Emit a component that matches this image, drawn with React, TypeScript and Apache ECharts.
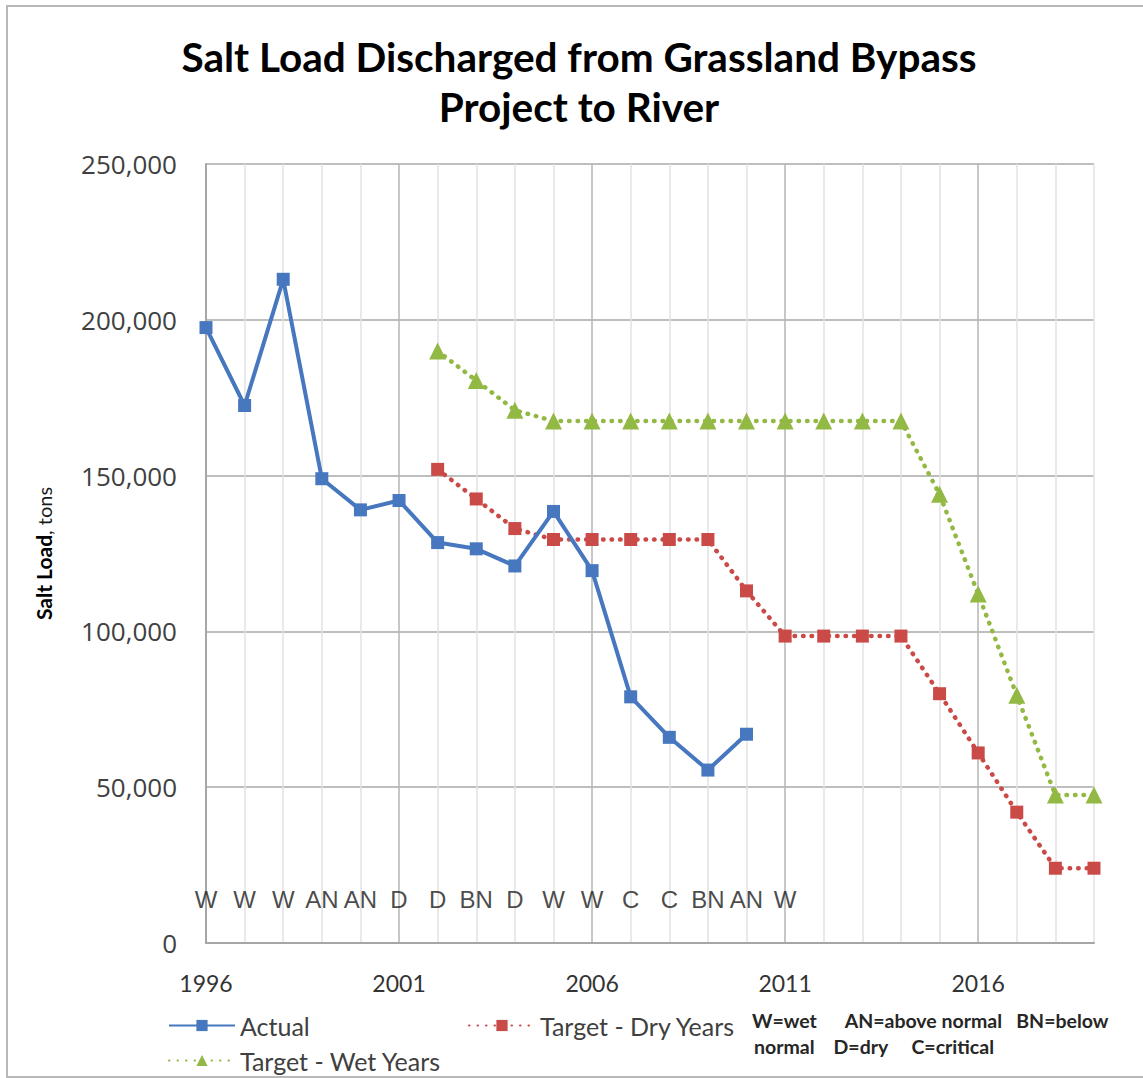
import React, { useEffect, useRef } from 'react';
import * as echarts from 'echarts';

const years = [
  '1996', '1997', '1998', '1999', '2000', '2001', '2002', '2003', '2004', '2005', '2006', '2007',
  '2008', '2009', '2010', '2011', '2012', '2013', '2014', '2015', '2016', '2017', '2018', '2019',
];

const actual = [
  197500, 172500, 213000, 149000, 139000, 142000, 128500, 126500, 121000, 138500, 119500, 79000,
  66000, 55500, 67000, null, null, null, null, null, null, null, null, null,
];

const targetDry = [
  null, null, null, null, null, null, 152000, 142500, 133000, 129500, 129500, 129500,
  129500, 129500, 113000, 98500, 98500, 98500, 98500, 80000, 61000, 42000, 24000, 24000,
];

const targetWet = [
  null, null, null, null, null, null, 190000, 180500, 171000, 167500, 167500, 167500,
  167500, 167500, 167500, 167500, 167500, 167500, 167500, 144000, 112000, 79500, 47500, 47500,
];

const yearTypes = ['W', 'W', 'W', 'AN', 'AN', 'D', 'D', 'BN', 'D', 'W', 'W', 'C', 'C', 'BN', 'AN', 'W'];
const yearTypeLevel = 14000;

const yTicks = { min: 0, max: 250000, interval: 50000 };

export default function App() {
  const ref = useRef<HTMLDivElement>(null);

  useEffect(() => {
    const chart = echarts.init(ref.current as HTMLDivElement, null, { renderer: 'svg' });
    const textColor = '#404040';
    const legendText = { fontFamily: 'Lato', fontSize: 25, color: textColor };
    const dotted = [0.5, 8];

    chart.setOption({
      animation: false,
      backgroundColor: '#ffffff',
      graphic: [
        {
          type: 'rect',
          shape: { x: 7, y: 6, width: 1160, height: 1071 },
          style: { fill: 'none', stroke: '#b8b8b8', lineWidth: 2 },
          silent: true,
        },
        {
          type: 'text',
          x: 579,
          y: 56,
          style: {
            text: 'Salt Load Discharged from Grassland Bypass',
            fontFamily: 'Lato',
            fontWeight: 'bold',
            fontSize: 40.5,
            fill: '#000000',
            align: 'center',
            verticalAlign: 'middle',
          },
        },
        {
          type: 'text',
          x: 579,
          y: 106,
          style: {
            text: 'Project to River',
            fontFamily: 'Lato',
            fontWeight: 'bold',
            fontSize: 40.5,
            fill: '#000000',
            align: 'center',
            verticalAlign: 'middle',
          },
        },
        {
          type: 'text',
          x: 752,
          y: 1020,
          style: {
            text: 'W=wet      AN=above normal   BN=below',
            fontFamily: 'Lato',
            fontWeight: 'bold',
            fontSize: 19.5,
            fill: '#262626',
            align: 'left',
            verticalAlign: 'middle',
          },
        },
        {
          type: 'text',
          x: 754,
          y: 1046,
          style: {
            text: 'normal    D=dry     C=critical',
            fontFamily: 'Lato',
            fontWeight: 'bold',
            fontSize: 19.5,
            fill: '#262626',
            align: 'left',
            verticalAlign: 'middle',
          },
        },
      ],
      grid: { left: 206, right: 49, top: 164, bottom: 135, containLabel: false },
      legend: [
        {
          left: 163,
          top: 1008,
          data: ['Actual'],
          itemWidth: 66,
          itemHeight: 14,
          textStyle: legendText,
        },
        {
          left: 463,
          top: 1008,
          data: ['Target - Dry Years'],
          itemWidth: 66,
          itemHeight: 14,
          textStyle: legendText,
        },
        {
          left: 163,
          top: 1043,
          data: ['Target - Wet Years'],
          itemWidth: 66,
          itemHeight: 14,
          textStyle: legendText,
        },
      ],
      xAxis: {
        type: 'category',
        data: years,
        boundaryGap: false,
        axisLine: { show: true, lineStyle: { color: '#a6a6a6', width: 2 } },
        axisTick: { show: false },
        axisLabel: {
          interval: 4,
          margin: 28,
          fontFamily: 'Lato',
          fontSize: 23,
          color: '#333333',
        },
        splitLine: {
          show: true,
          interval: 0,
          lineStyle: {
            color: ['#b5b5b5', '#e2e2e2', '#e2e2e2', '#e2e2e2', '#e2e2e2'],
            width: 1.5,
          },
        },
      },
      yAxis: {
        type: 'value',
        min: yTicks.min,
        max: yTicks.max,
        interval: yTicks.interval,
        axisLine: { show: true, lineStyle: { color: '#a6a6a6', width: 2 } },
        axisTick: { show: false },
        axisLabel: {
          margin: 29,
          fontFamily: 'Open Sans',
          fontSize: 26,
          color: textColor,
          formatter: (v: number) => v.toLocaleString('en-US'),
        },
        splitLine: { show: true, lineStyle: { color: '#a8a8a8', width: 1.5 } },
        name: '{bold|Salt Load}{thin|, tons}',
        nameLocation: 'middle',
        nameGap: 152,
        nameTextStyle: {
          fontSize: 20,
          fontFamily: 'Lato',
          color: '#000000',
          rich: {
            bold: { fontFamily: 'Lato', fontWeight: 'bold', fontSize: 21, color: '#000000' },
            thin: { fontFamily: 'Lato', fontWeight: 'normal', fontSize: 20, color: '#1a1a1a' },
          },
        },
      },
      series: [
        {
          name: 'Actual',
          type: 'line',
          data: actual,
          symbol: 'rect',
          symbolSize: 13,
          connectNulls: false,
          itemStyle: { color: '#4677BF' },
          lineStyle: { color: '#4677BF', width: 4 },
          z: 5,
        },
        {
          name: 'Target - Dry Years',
          type: 'line',
          data: targetDry,
          symbol: 'rect',
          symbolSize: 13,
          itemStyle: { color: '#C94A47' },
          lineStyle: { color: '#C94A47', width: 4.5, type: dotted, cap: 'round' },
          z: 4,
        },
        {
          name: 'Target - Wet Years',
          type: 'line',
          data: targetWet,
          symbol: 'triangle',
          symbolSize: 17,
          itemStyle: { color: '#93B945' },
          lineStyle: { color: '#93B945', width: 4.5, type: dotted, cap: 'round' },
          z: 4,
        },
        {
          name: 'Year type',
          type: 'scatter',
          data: yearTypes.map(() => yearTypeLevel),
          symbolSize: 0,
          silent: true,
          label: {
            show: true,
            position: 'inside',
            formatter: (p: any) => yearTypes[p.dataIndex],
            fontFamily: 'Liberation Sans',
            fontSize: 24,
            color: '#1a1a1a',
          },
          z: 6,
        },
      ],
    });

    return () => chart.dispose();
  }, []);

  return (
    <div
      ref={ref}
      style={{ position: 'absolute', left: 0, top: 0, width: 1143, height: 1078, background: '#fff' }}
    />
  );
}
